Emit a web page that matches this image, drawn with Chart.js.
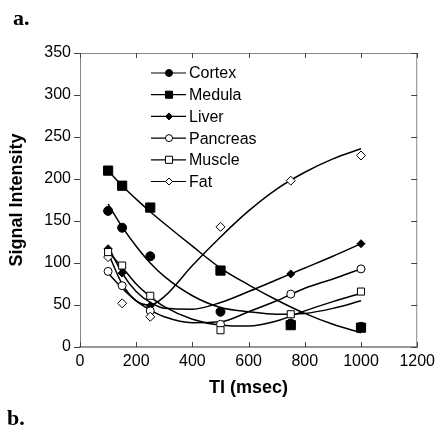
<!DOCTYPE html>
<html>
<head>
<meta charset="utf-8">
<script src="https://cdn.jsdelivr.net/npm/chart.js@4/dist/chart.umd.min.js"></script>
<style>
  body { margin: 0; background: #fff; }
  #wrap { position: relative; width: 440px; height: 433px; }
  .panel { position: absolute; font-family: "Liberation Serif", "DejaVu Serif", serif; font-weight: bold; font-size: 22px; line-height: 1; color: #000; }
</style>
</head>
<body>
<div id="wrap">
  <canvas id="chart" width="440" height="433"></canvas>
  <div class="panel" style="left:13px; top:7px;">a.</div>
  <div class="panel" style="left:7px; top:407px;">b.</div>
</div>
<script>
// measured TI values and signal intensities
const ti = [100, 150, 250, 500, 750, 1000];
const cortex = [162, 142, 108, 42, 28, 24];
const medula = [210, 192, 166, 91, 26, 23];
const liver = [117, 88, 49, 42, 87, 123];
const pancreas = [90, 73, 43, 27, 63, 93];
const muscle = [113, 97, 61, 20, 39, 66];
const fat = [107, 52, 36, 143, 198, 228];

// fitted curves
const fitTi = [100, 150, 200, 250, 300, 400, 500, 600, 700, 800, 900, 1000];
const cortexFit = [170, 143, 120, 100, 84, 61, 47, 42, 39, 40, 46, 55];
const medulaFit = [210, 192, 176, 161, 147, 120, 94, 74, 56, 40, 27, 17];
const liverFit = [120, 88, 66, 53, 46, 45, 53, 66, 80, 94, 108, 123];
const pancreasFit = [88, 70, 55, 44, 36, 29, 30, 42, 55, 70, 81, 93];
const muscleFit = [113, 95, 75, 60, 48, 33, 26, 25, 31, 43, 54, 64];
const fatFit = [112, 75, 55, 50, 60, 97, 131, 162, 188, 208, 224, 236];

const xTicks = [0, 200, 400, 600, 800, 1000, 1200];
const yTicks = [0, 50, 100, 150, 200, 250, 300, 350];

const series = [
    { label: 'Cortex', pts: cortex, fit: cortexFit, style: 'circle', filled: true, r: 4.5, order: 5 },
    { label: 'Medula', pts: medula, fit: medulaFit, style: 'rect', filled: true, r: 6.5, order: 1 },
    { label: 'Liver', pts: liver, fit: liverFit, style: 'rectRot', filled: true, r: 4, order: 4 },
    { label: 'Pancreas', pts: pancreas, fit: pancreasFit, style: 'circle', filled: false, r: 4, order: 3 },
    { label: 'Muscle', pts: muscle, fit: muscleFit, style: 'rect', filled: false, r: 5, order: 0 },
    { label: 'Fat', pts: fat, fit: fatFit, style: 'rectRot', filled: false, r: 4.5, order: 2 }
];

const toXY = (xs, ys) => xs.map((x, i) => ({ x: x, y: ys[i] }));

const datasets = [];
series.forEach(s => {
    datasets.push({
        label: s.label + ' fit',
        data: toXY(fitTi, s.fit),
        borderColor: '#000',
        borderWidth: 1.5,
        pointRadius: 0,
        cubicInterpolationMode: 'monotone',
        fill: false,
        order: 20
    });
    datasets.push({
        label: s.label,
        data: toXY(ti, s.pts),
        showLine: false,
        pointStyle: s.style,
        pointRadius: s.r,
        pointBackgroundColor: s.filled ? '#000' : '#fff',
        pointBorderColor: '#000',
        pointBorderWidth: 1,
        order: s.order
    });
});

function drawMarker(ctx, style, x, y, r, filled) {
    ctx.beginPath();
    if (style === 'circle') {
        ctx.arc(x, y, r, 0, Math.PI * 2);
    } else if (style === 'rect') {
        const h = r * Math.SQRT1_2;
        ctx.rect(x - h, y - h, 2 * h, 2 * h);
    } else {
        ctx.moveTo(x - r, y); ctx.lineTo(x, y - r); ctx.lineTo(x + r, y); ctx.lineTo(x, y + r); ctx.closePath();
    }
    ctx.fillStyle = filled ? '#000' : '#fff';
    ctx.fill();
    ctx.lineWidth = 1;
    ctx.strokeStyle = '#000';
    ctx.stroke();
}

// box frame with inward ticks, and the legend inside the plot
const framePlugin = {
    id: 'frame',
    beforeDatasetsDraw(chart) {
        const { ctx, chartArea: a, scales } = chart;
        ctx.save();
        ctx.strokeStyle = '#888';
        ctx.lineWidth = 1;
        ctx.beginPath();
        ctx.moveTo(a.left, a.top + 0.5); ctx.lineTo(a.right, a.top + 0.5);
        ctx.moveTo(a.right - 0.5, a.top); ctx.lineTo(a.right - 0.5, a.bottom);
        ctx.stroke();
        ctx.strokeStyle = '#444';
        ctx.beginPath();
        xTicks.forEach(v => {
            const px = Math.round(scales.x.getPixelForValue(v)) + 0.5;
            ctx.moveTo(px, a.bottom); ctx.lineTo(px, a.bottom - 5);
            ctx.moveTo(px, a.top); ctx.lineTo(px, a.top + 5);
        });
        yTicks.forEach(v => {
            const py = Math.round(scales.y.getPixelForValue(v)) + 0.5;
            ctx.moveTo(a.left, py); ctx.lineTo(a.left - 6, py);
            ctx.moveTo(a.right, py); ctx.lineTo(a.right - 6, py);
        });
        ctx.stroke();
        ctx.restore();
    },
    afterDraw(chart) {
        const { ctx, chartArea: a } = chart;
        const x0 = a.left + 71, y0 = a.top + 20, step = 21.7;
        ctx.save();
        ctx.font = '16px "Liberation Sans", Arial, sans-serif';
        ctx.textBaseline = 'middle';
        ctx.textAlign = 'left';
        series.forEach((s, i) => {
            const y = y0 + i * step;
            ctx.strokeStyle = '#000';
            ctx.lineWidth = 1.2;
            ctx.beginPath();
            ctx.moveTo(x0, y); ctx.lineTo(x0 + 35, y);
            ctx.stroke();
            drawMarker(ctx, s.style, x0 + 18, y, s.style === 'rect' ? 5 : 3.5, s.filled);
            ctx.fillStyle = '#000';
            ctx.fillText(s.label, x0 + 38, y + 1);
        });
        ctx.restore();
    }
};

const tickFont = { family: '"Liberation Sans", Arial, sans-serif', size: 16 };
const titleFont = { family: '"Liberation Sans", Arial, sans-serif', size: 18, weight: 'bold' };

new Chart(document.getElementById('chart'), {
    type: 'line',
    data: { datasets: datasets },
    options: {
        responsive: false,
        animation: false,
        layout: { padding: { top: 53, right: 18, bottom: 30, left: 0 } },
        plugins: {
            legend: { display: false },
            tooltip: { enabled: false }
        },
        scales: {
            x: {
                type: 'linear',
                min: 0,
                max: 1200,
                afterFit: scale => { scale.height = 56; },
                afterBuildTicks: scale => { scale.ticks = xTicks.map(v => ({ value: v })); },
                grid: { display: false, drawTicks: false },
                border: { display: true, color: '#999', width: 2 },
                ticks: {
                    padding: 5,
                    color: '#000',
                    maxRotation: 0,
                    font: tickFont,
                    callback: v => String(v)
                },
                title: {
                    display: true,
                    text: 'TI (msec)',
                    color: '#000',
                    padding: { top: 0, bottom: 4 },
                    font: titleFont
                }
            },
            y: {
                min: 0,
                max: 350,
                afterFit: scale => { scale.width = 80; },
                afterBuildTicks: scale => { scale.ticks = yTicks.map(v => ({ value: v })); },
                grid: { display: false, drawTicks: false },
                border: { display: true, color: '#888', width: 1 },
                ticks: {
                    padding: 9,
                    color: '#000',
                    font: tickFont,
                    callback: v => String(v)
                },
                title: {
                    display: true,
                    text: 'Signal Intensity',
                    color: '#000',
                    padding: { top: 6, bottom: 0 },
                    font: titleFont
                }
            }
        }
    },
    plugins: [framePlugin]
});
</script>
</body>
</html>
